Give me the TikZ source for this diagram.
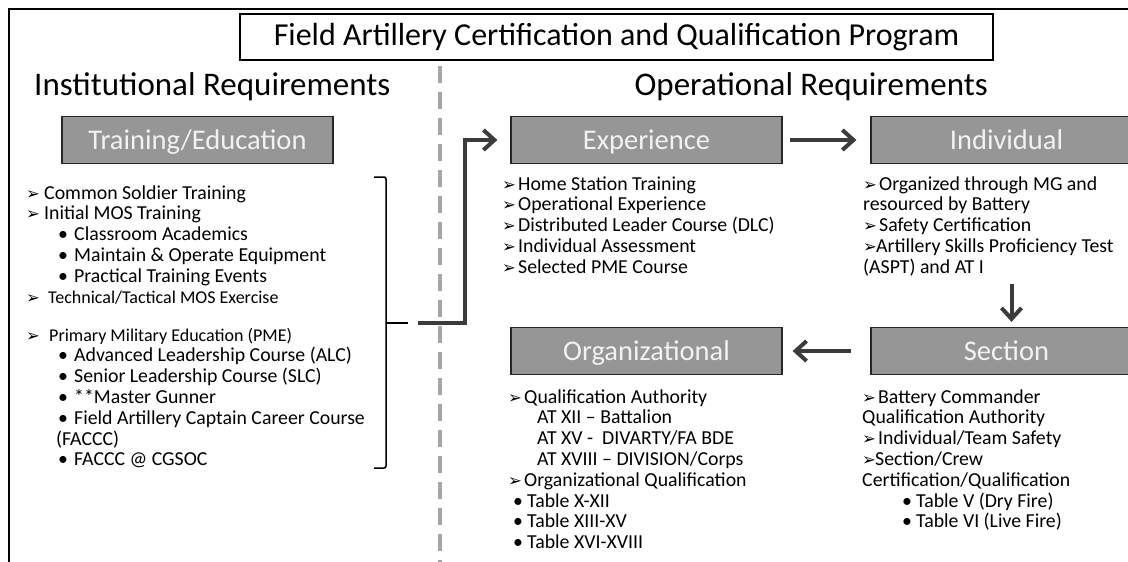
\documentclass[tikz,border=0pt]{standalone}
\usepackage{fontspec}
\setmainfont{Carlito}
\newfontfamily\symfont{DejaVu Sans}
\usetikzlibrary{arrows.meta}
\definecolor{boxgray}{HTML}{969696}
\definecolor{arrowgray}{HTML}{3C3C3C}
\definecolor{dashgray}{HTML}{A6A6A6}
\newcommand{\tri}[1][16pt]{\makebox[#1][l]{\symfont\fontsize{16.5}{16.5}\selectfont ➢}}
\newcommand{\bul}[1][16pt]{\makebox[#1][l]{\textbullet}}

\begin{document}
\begin{tikzpicture}[x=1pt,y=-1pt]
\tikzstyle{stage}=[draw=black!85, line width=1.2pt, fill=boxgray, text=white!95!black, minimum width=271pt, minimum height=47pt, inner sep=0pt, text height=22pt, text depth=3.6pt, font=\fontsize{28.5}{30}\selectfont]
\tikzstyle{list}=[anchor=base west, inner sep=0pt, align=left, font=\fontsize{19.8}{20.8}\selectfont]
\tikzstyle{heading}=[anchor=base west, inner sep=0pt, font=\fontsize{33}{34}\selectfont]
\tikzstyle{flow}=[draw=arrowgray, line width=4pt, -{Straight Barb[length=11pt,width=20pt]}]

\useasboundingbox (0,0) rectangle (1128,562);
\clip (0,0) rectangle (1128,562);

\draw[line width=2.5pt] (9,580) -- (9,9) -- (1150,9);
\draw[dashgray, line width=4.5pt, dash pattern=on 17pt off 9pt] (440,66) -- (440,562);

\node[draw, line width=1.5pt, fill=white, minimum width=753pt, minimum height=46pt, inner sep=0pt, font=\fontsize{32}{34}\selectfont] (title) at (616.5,37) {Field Artillery Certification and Qualification Program};
\node[heading] (inst) at (34,95) {Institutional Requirements};
\node[heading, anchor=base east] (oper) at (988,95) {Operational Requirements};

\node[stage] (train) at (197.5,140) {Training/Education};
\node[stage] (exp) at (646.5,140) {Experience};
\node[stage] (ind) at (1006.5,140) {Individual};
\node[stage] (org) at (646.5,351) {Organizational};
\node[stage] (sec) at (1006.5,351) {Section};

% lists are placed by the baseline of their last line
\node[list] (moslist) at (26,{199+5*20.8}) {\tri[18pt]Common Soldier Training\\
\tri[18pt]Initial MOS Training\\
\hspace*{32pt}\bul Classroom Academics\\
\hspace*{32pt}\bul Maintain \& Operate Equipment\\
\hspace*{32pt}\bul Practical Training Events\\
\tri[22pt]{\fontsize{18}{20.8}\selectfont Technical/Tactical MOS Exercise}};
\node[list] (pmelist) at (26,{341+6*20.8}) {\tri[23pt]{\fontsize{18}{20.8}\selectfont Primary Military Education (PME)}\\
\hspace*{32pt}\bul Advanced Leadership Course (ALC)\\
\hspace*{32pt}\bul Senior Leadership Course (SLC)\\
\hspace*{32pt}\bul **Master Gunner\\
\hspace*{32pt}\bul Field Artillery Captain Career Course\\
\hspace*{30pt}(FACCC)\\
\hspace*{32pt}\bul FACCC @ CGSOC};

\node[list] (explist) at (502,{190+4*20.8}) {\tri Home Station Training\\
\tri Operational Experience\\
\tri Distributed Leader Course (DLC)\\
\tri Individual Assessment\\
\tri Selected PME Course};
\node[list] (indlist) at (863,{190+4*20.8}) {\tri[16pt]Organized through MG and\\
resourced by Battery\\
\tri[16pt]Safety Certification\\
\tri[13pt]Artillery Skills Proficiency Test\\
(ASPT) and AT I};
\node[list] (orglist) at (508,{403+7*20.8}) {\tri Qualification Authority\\
\hspace*{29pt}AT XII – Battalion\\
\hspace*{29pt}AT XV -\ \ DIVARTY/FA BDE\\
\hspace*{29pt}AT XVIII – DIVISION/Corps\\
\tri Organizational Qualification\\
\hspace*{5pt}\bul[14pt]Table X-XII\\
\hspace*{5pt}\bul[14pt]Table XIII-XV\\
\hspace*{5pt}\bul[14pt]Table XVI-XVIII};
\node[list] (seclist) at (862,{403+6*20.8}) {\tri[16pt]Battery Commander\\
Qualification Authority\\
\tri[16pt]Individual/Team Safety\\
\tri[13pt]Section/Crew\\
Certification/Qualification\\
\hspace*{40pt}\bul[14pt]Table V (Dry Fire)\\
\hspace*{40pt}\bul[14pt]Table VI (Live Fire)};

% bracket round the institutional list
\coordinate (tick) at (408,323);
\coordinate (start) at (418,323);
\draw[line width=1.5pt, rounded corners=2pt] (374,177) -- (386,177) -- (386,468) -- (374,468);
\draw[line width=1.5pt] (386,323) -- (tick);

\draw[flow, shorten >=13pt] (start) -- ++(47,0) |- (exp.west);
\draw[flow, shorten <=7pt, shorten >=14pt] (exp) -- (ind);
\draw[flow, shorten >=5pt] ([xshift=5pt]ind.south) ++(0,120) -- ([xshift=5pt]sec.north);
\draw[flow, shorten <=19pt, shorten >=10pt] (sec) -- (org);
\end{tikzpicture}
\end{document}
